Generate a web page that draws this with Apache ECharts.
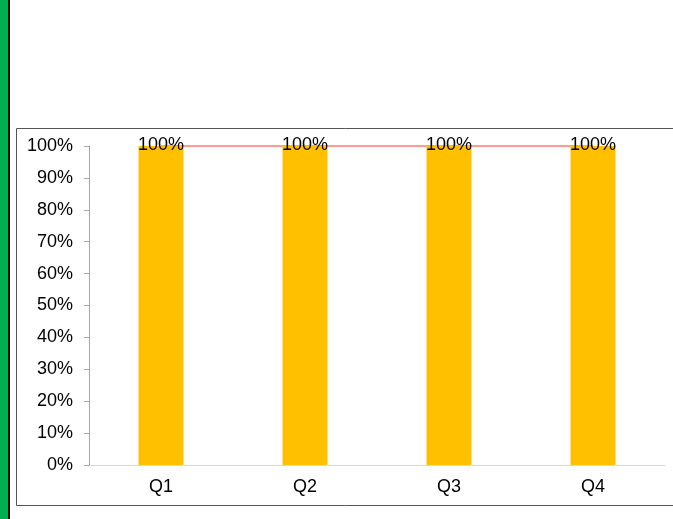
<!DOCTYPE html>
<html>
<head>
<meta charset="utf-8">
<script src="https://cdn.jsdelivr.net/npm/echarts@6/dist/echarts.min.js"></script>
<style>
  html, body { margin: 0; padding: 0; background: #fff; }
  #main { width: 673px; height: 519px; }
</style>
</head>
<body>
<div id="main"></div>
<script>
var categories = ['Q1', 'Q2', 'Q3', 'Q4'];
var barValues = [1, 1, 1, 1];
var targetValues = [1, 1, 1, 1];

var myChart = echarts.init(document.getElementById('main'));

var option = {
  animation: false,
  textStyle: { fontFamily: 'Liberation Sans, Arial, sans-serif' },
  graphic: [
    { type: 'rect', shape: { x: 0, y: 0, width: 8, height: 519 }, style: { fill: '#00B050' } },
    { type: 'rect', shape: { x: 8, y: 0, width: 2, height: 519 }, style: { fill: '#111' } },
    { type: 'rect', shape: { x: 16.5, y: 128.5, width: 670, height: 377 }, style: { fill: 'none', stroke: '#555', lineWidth: 1 } }
  ],
  grid: { left: 89, right: 8, top: 146, bottom: 54 },
  xAxis: {
    type: 'category',
    data: categories,
    axisLine: { lineStyle: { color: '#d9d9d9' } },
    axisTick: { show: false },
    axisLabel: { color: '#000', fontSize: 18, margin: 13 }
  },
  yAxis: {
    type: 'value',
    min: 0,
    max: 1,
    interval: 0.1,
    splitLine: { show: false },
    axisLine: { show: true, lineStyle: { color: '#a6a6a6' } },
    axisTick: { show: true, length: 5, lineStyle: { color: '#a6a6a6' } },
    axisLabel: {
      color: '#000',
      fontSize: 18,
      margin: 16,
      formatter: function (v) { return Math.round(v * 100) + '%'; }
    }
  },
  series: [
    {
      type: 'line',
      data: targetValues,
      z: 1,
      symbol: 'none',
      lineStyle: { color: '#FF9B9B', width: 2 }
    },
    {
      type: 'bar',
      data: barValues,
      z: 2,
      barWidth: 45,
      itemStyle: { color: '#FFC000' },
      label: {
        show: true,
        position: 'insideTop',
        offset: [0, -15],
        color: '#000',
        fontSize: 18,
        formatter: function (p) { return Math.round(p.value * 100) + '%'; }
      }
    }
  ]
};

myChart.setOption(option);
</script>
</body>
</html>
